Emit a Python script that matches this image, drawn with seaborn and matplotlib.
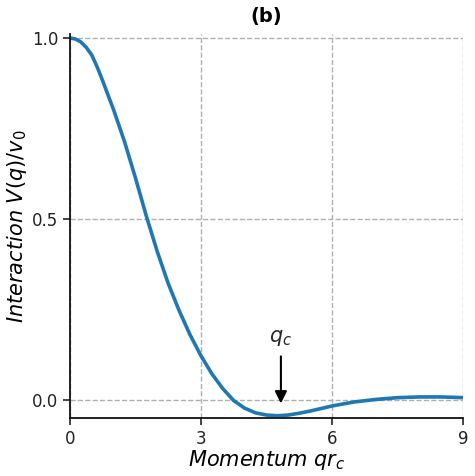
import numpy as np
import pandas as pd
import matplotlib
matplotlib.use("Agg")
import matplotlib.pyplot as plt
import seaborn as sns

# values
q_rc = [0.0, 0.125, 0.25, 0.375, 0.5, 0.625, 0.75, 1.0, 1.25, 1.5, 1.75,
        2.0, 2.25, 2.5, 2.75, 3.0, 3.25, 3.5, 3.75, 4.0, 4.25, 4.5, 4.75,
        5.0, 5.25, 5.5, 5.75, 6.0, 6.5, 7.0, 7.5, 8.0, 8.5, 9.0]
v_over_v0 = [1.0, 0.997, 0.989, 0.974, 0.953, 0.920, 0.882, 0.802, 0.714,
             0.614, 0.508, 0.410, 0.322, 0.247, 0.180, 0.122, 0.072,
             0.031, -0.002, -0.023, -0.036, -0.042, -0.044, -0.042,
             -0.037, -0.031, -0.024, -0.017, -0.006, 0.001, 0.006, 0.008,
             0.008, 0.006]

x_ticks = [0, 3, 6, 9]
y_ticks = [0.0, 0.5, 1.0]
q_c = 4.83

df = pd.DataFrame({"q": q_rc, "V": v_over_v0})

sns.set_style("ticks")
plt.rcParams["font.family"] = ["DejaVu Sans"]
plt.rcParams["mathtext.fontset"] = "dejavusans"

fig = plt.figure(figsize=(4.75, 4.76), dpi=100)
ax = fig.add_axes([0.147, 0.122, 0.828, 0.806])

sns.lineplot(data=df, x="q", y="V", ax=ax, color="#1f77b4", linewidth=2.6)

ax.set_xlim(0, 9)
ax.set_ylim(-0.05, 1.01)
ax.set_xticks(x_ticks)
ax.set_yticks(y_ticks)
ax.set_yticklabels([f"{t:.1f}" for t in y_ticks])
ax.tick_params(axis="both", labelsize=12, direction="out", length=5,
               width=1.2, colors="#222222")

ax.grid(True, linestyle="--", color="#b0b0b0", linewidth=1.0)
ax.set_axisbelow(True)
sns.despine(ax=ax)
for side in ["left", "bottom"]:
    ax.spines[side].set_linewidth(1.3)
    ax.spines[side].set_color("#111111")

ax.set_xlabel(r"Momentum $qr_c$", fontsize=15, fontstyle="italic", labelpad=0,
              color="black")
ax.set_ylabel(r"Interaction $V(q)/v_0$", fontsize=15, fontstyle="italic",
              labelpad=2, color="black")
ax.set_title("(b)", fontsize=14, fontweight="bold", pad=9, color="black")

# arrow marking q_c
ax.annotate("", xy=(q_c, -0.01), xytext=(q_c, 0.12),
            arrowprops=dict(arrowstyle="-|>", color="black", lw=1.5,
                            mutation_scale=18, shrinkA=0, shrinkB=0))
ax.text(q_c, 0.171, r"$q_c$", fontsize=15, ha="center", va="center")

fig.savefig("out.png", dpi=100)
